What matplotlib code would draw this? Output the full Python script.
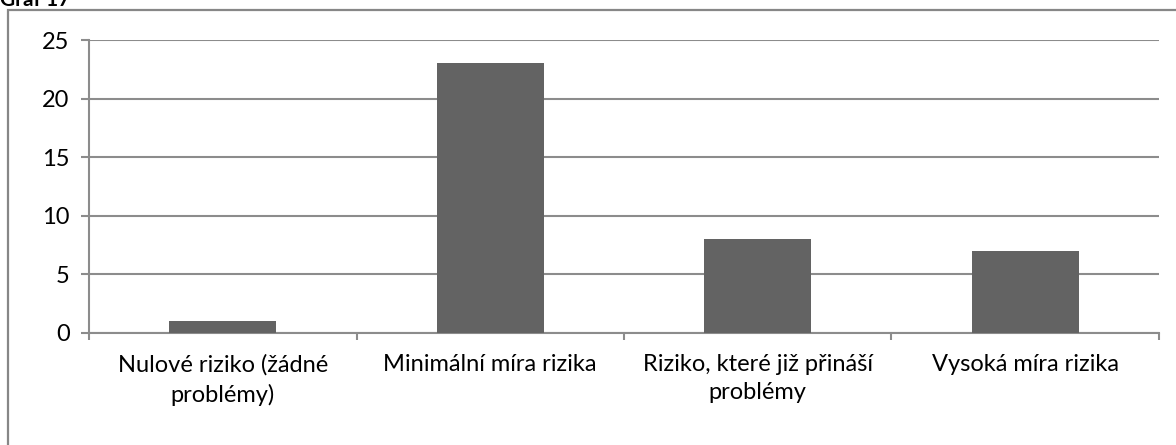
import matplotlib
matplotlib.use("Agg")
import matplotlib.pyplot as plt
from matplotlib.patches import Rectangle
import numpy as np

plt.rcParams["font.family"] = ["Lato", "DejaVu Sans"]

categories = [
    "Nulové riziko (žádné\nproblémy)",
    "Minimální míra rizika",
    "Riziko, které již přináší\nproblémy",
    "Vysoká míra rizika",
]
counts = [1, 23, 8, 7]
yticks = [0, 5, 10, 15, 20, 25]

GRID = "#8c8c8c"
BAR = "#636363"

fig = plt.figure(figsize=(11.76, 4.45), dpi=100)
ax = fig.add_axes([0.0757, 0.2517, 0.9098, 0.6583])

x = np.arange(len(categories))
ax.bar(x, counts, width=0.4, color=BAR, zorder=3)

ax.set_xlim(-0.5, len(categories) - 0.5)
ax.set_ylim(0, 25)
ax.set_yticks(yticks)
ax.yaxis.grid(True, color=GRID, linewidth=1.5, zorder=0)
ax.tick_params(axis="y", length=6, width=1.5, color=GRID, pad=8, labelsize=17)

ax.set_xticks(x)
ax.set_xticklabels(categories, fontsize=17, linespacing=1.45)
ax.tick_params(axis="x", which="major", length=0, pad=15)
ax.set_xticks(np.arange(-0.5, len(categories)), minor=True)
ax.tick_params(axis="x", which="minor", length=5, width=1.5, color=GRID)

for side in ("top", "right"):
    ax.spines[side].set_visible(False)
for side in ("left", "bottom"):
    ax.spines[side].set_color(GRID)
    ax.spines[side].set_linewidth(1.5)

# chart frame, cut off at the right and bottom edges
fig.patches.append(Rectangle((8 / 1176, -0.1), 1.2, 1 - 10 / 445 + 0.1,
                             transform=fig.transFigure, fill=False,
                             edgecolor="#878787", linewidth=1.6))
fig.text(0.0, 1 - 6 / 445, "Graf 17", fontsize=15, fontweight="bold",
         ha="left", va="baseline")

fig.savefig("out.png", dpi=100)
